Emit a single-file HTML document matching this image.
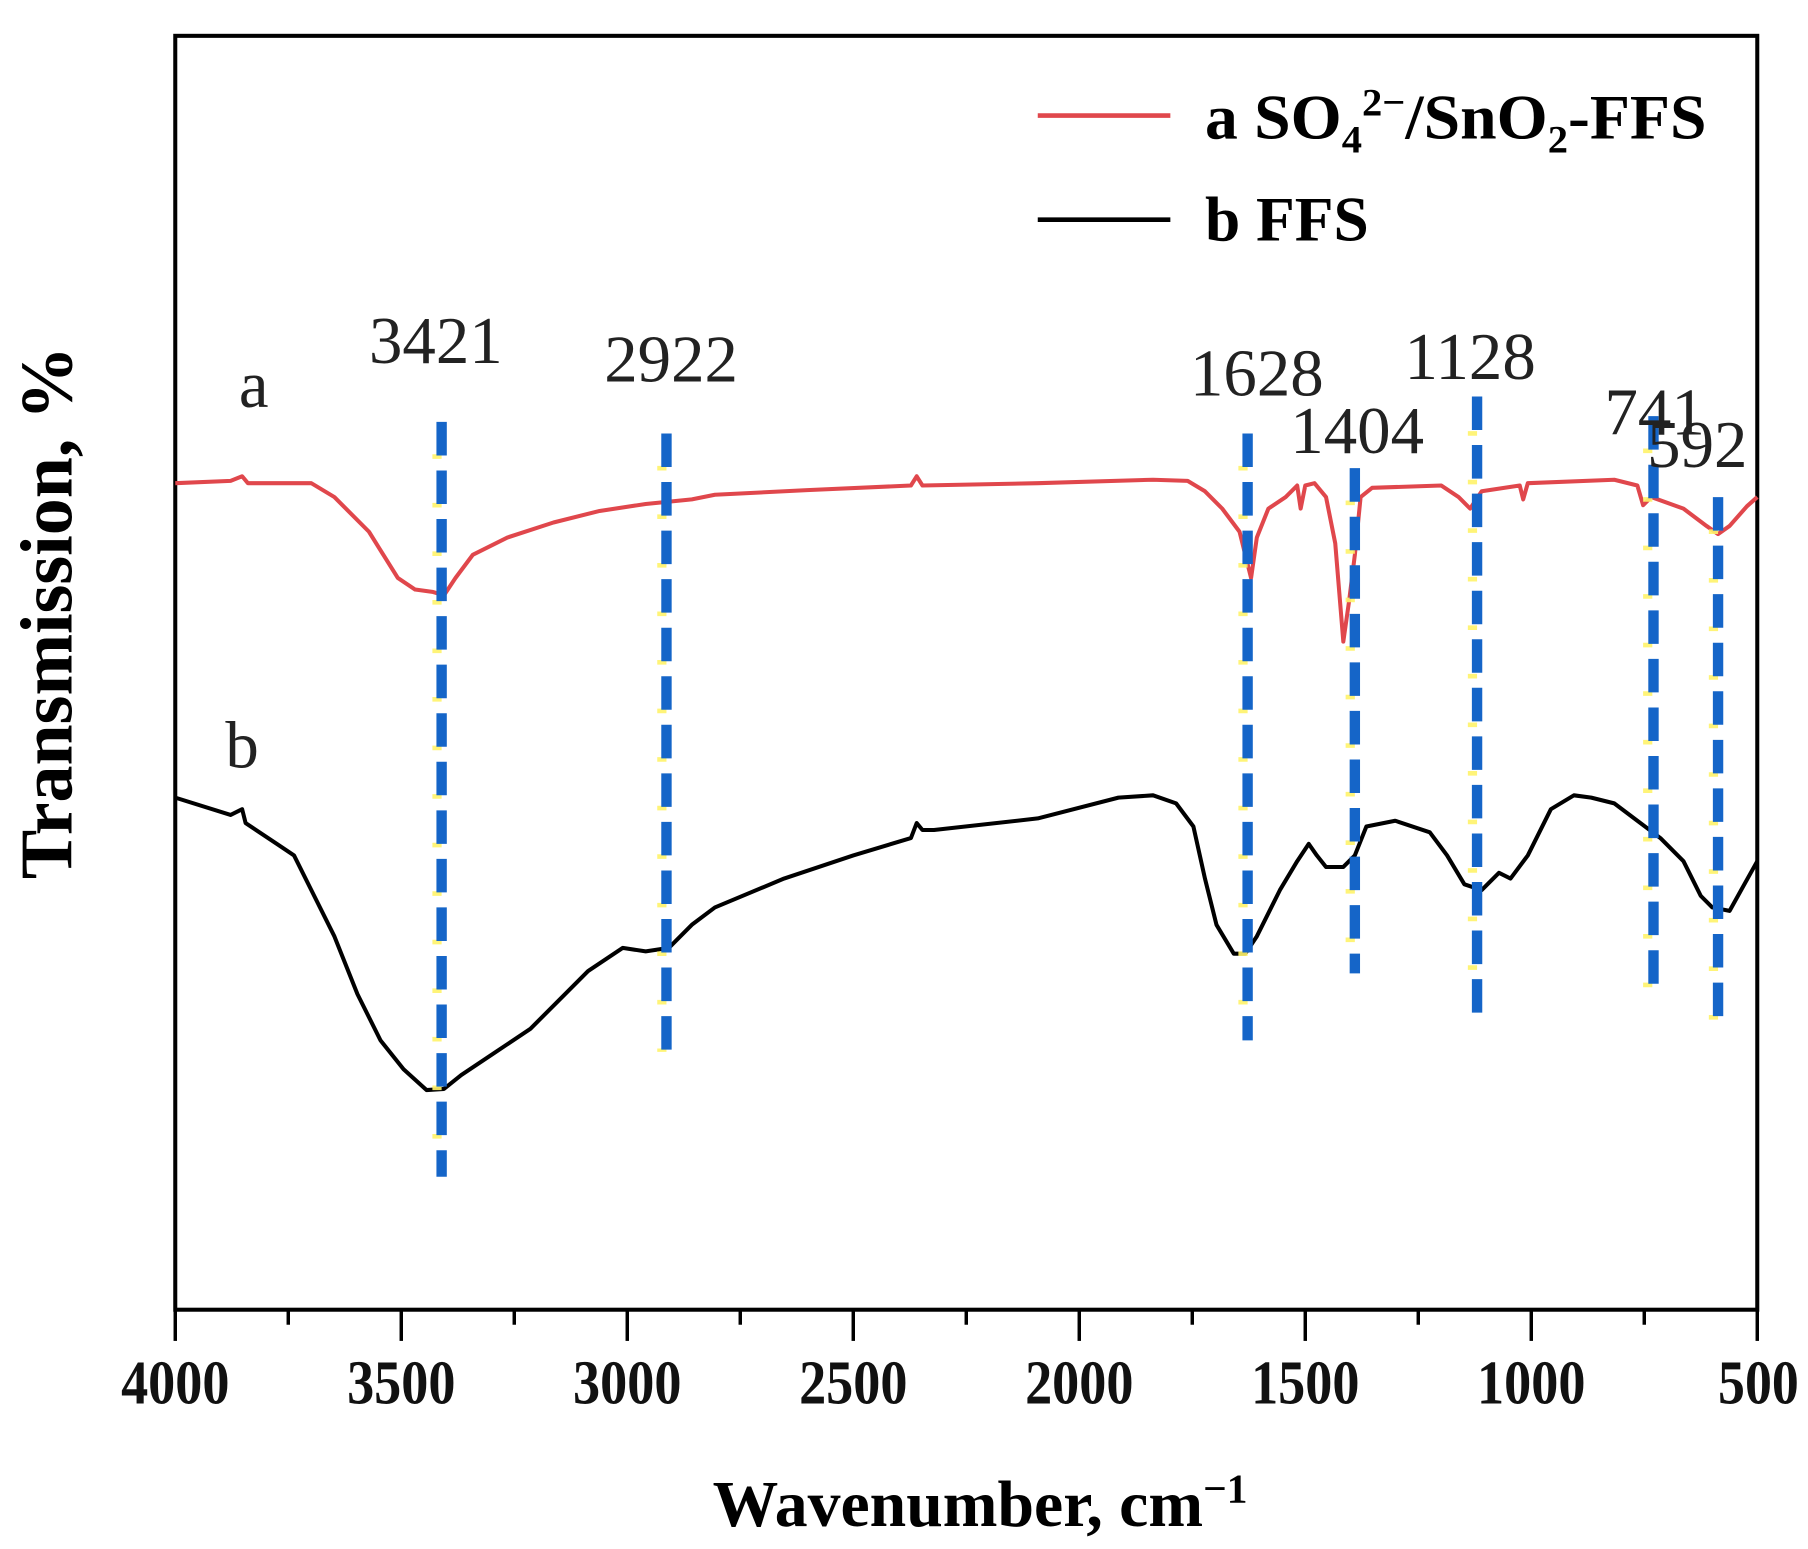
<!DOCTYPE html>
<html><head><meta charset="utf-8"><style>
html,body{margin:0;padding:0;background:#fff;}
svg{display:block;}
</style></head><body>
<svg width="1808" height="1549" viewBox="0 0 1568 1340" preserveAspectRatio="none" xmlns="http://www.w3.org/2000/svg">
<rect width="1568" height="1340" fill="#fff"/>
<rect x="152" y="31" width="1372" height="1102" fill="none" stroke="#000" stroke-width="3.5"/>
<g stroke="#000" stroke-width="3">
<line x1="152" y1="1133" x2="152" y2="1160"/>
<line x1="250" y1="1133" x2="250" y2="1146"/>
<line x1="348" y1="1133" x2="348" y2="1160"/>
<line x1="446" y1="1133" x2="446" y2="1146"/>
<line x1="544" y1="1133" x2="544" y2="1160"/>
<line x1="642" y1="1133" x2="642" y2="1146"/>
<line x1="740" y1="1133" x2="740" y2="1160"/>
<line x1="838" y1="1133" x2="838" y2="1146"/>
<line x1="936" y1="1133" x2="936" y2="1160"/>
<line x1="1034" y1="1133" x2="1034" y2="1146"/>
<line x1="1132" y1="1133" x2="1132" y2="1160"/>
<line x1="1230" y1="1133" x2="1230" y2="1146"/>
<line x1="1328" y1="1133" x2="1328" y2="1160"/>
<line x1="1426" y1="1133" x2="1426" y2="1146"/>
<line x1="1524" y1="1133" x2="1524" y2="1160"/>
</g>
<g font-family="Liberation Serif, serif" font-weight="bold" font-size="54" fill="#111">
<text x="105" y="1214" textLength="94" lengthAdjust="spacingAndGlyphs">4000</text>
<text x="301" y="1214" textLength="94" lengthAdjust="spacingAndGlyphs">3500</text>
<text x="497" y="1214" textLength="94" lengthAdjust="spacingAndGlyphs">3000</text>
<text x="693" y="1214" textLength="94" lengthAdjust="spacingAndGlyphs">2500</text>
<text x="889" y="1214" textLength="94" lengthAdjust="spacingAndGlyphs">2000</text>
<text x="1085" y="1214" textLength="94" lengthAdjust="spacingAndGlyphs">1500</text>
<text x="1281" y="1214" textLength="94" lengthAdjust="spacingAndGlyphs">1000</text>
<text x="1490" y="1214" textLength="70" lengthAdjust="spacingAndGlyphs">500</text>
</g>
<text x="850" y="1320" font-family="Liberation Serif, serif" font-weight="bold" font-size="57" text-anchor="middle">Wavenumber, cm<tspan dy="-20" font-size="36">−1</tspan></text>
<text transform="translate(62,530) rotate(-90)" font-family="Liberation Serif, serif" font-weight="bold" font-size="64" text-anchor="middle">Transmission, %</text>
<line x1="900" y1="100" x2="1015" y2="100" stroke="#e0474c" stroke-width="4"/>
<line x1="900" y1="190" x2="1015" y2="190" stroke="#000" stroke-width="4"/>
<text x="1045" y="120" font-family="Liberation Serif, serif" font-weight="bold" font-size="55" textLength="435" lengthAdjust="spacingAndGlyphs">a SO<tspan font-size="34" dy="12">4</tspan><tspan font-size="34" dy="-32">2−</tspan><tspan dy="20">/SnO</tspan><tspan font-size="34" dy="12">2</tspan><tspan dy="-12">-FFS</tspan></text>
<text x="1045" y="208" font-family="Liberation Serif, serif" font-weight="bold" font-size="55">b FFS</text>
<polyline fill="none" stroke="#e0474c" stroke-width="3.5" stroke-linejoin="round" points="152,418 200,416 210,412 215,418 270,418 290,430 320,460 345,500 360,510 375,512 385,515 395,500 410,480 440,465 480,452 520,442 560,436 600,432 620,428 700,424 790,420 795,412 800,420 900,418 1000,415 1030,416 1045,425 1060,440 1075,460 1085,500 1090,465 1100,440 1115,430 1125,420 1128,440 1132,420 1140,418 1150,430 1158,470 1165,555 1170,520 1175,480 1180,430 1190,422 1250,420 1265,430 1275,440 1285,425 1318,420 1321,432 1325,418 1400,415 1420,420 1425,437 1432,430 1460,440 1480,455 1490,462 1500,455 1515,438 1524,430"/>
<polyline fill="none" stroke="#000" stroke-width="3.5" stroke-linejoin="round" points="152,690 200,705 210,700 213,712 240,730 255,740 270,770 290,810 310,860 330,900 350,925 370,943 385,942 400,930 430,910 460,890 490,860 510,840 540,820 560,823 580,820 600,800 620,785 680,760 740,740 790,725 795,712 800,718 810,718 900,708 970,690 1000,688 1020,695 1035,715 1045,760 1055,800 1070,825 1080,825 1090,810 1110,770 1125,745 1135,730 1142,740 1150,750 1165,750 1175,740 1185,715 1210,710 1240,720 1255,740 1270,765 1285,770 1300,755 1310,760 1325,740 1345,700 1365,688 1380,690 1400,695 1420,710 1440,725 1460,745 1475,775 1485,785 1500,788 1510,770 1524,745"/>
<g stroke="#fff36a" stroke-width="8" stroke-dasharray="4 38" opacity="0.9">
<line x1="379" y1="393" x2="379" y2="1018"/><line x1="574" y1="403" x2="574" y2="910"/>
<line x1="1078" y1="403" x2="1078" y2="900"/><line x1="1171" y1="433" x2="1171" y2="850"/>
<line x1="1277" y1="373" x2="1277" y2="875"/><line x1="1429" y1="388" x2="1429" y2="858"/>
<line x1="1486" y1="458" x2="1486" y2="882"/>
</g>
<g stroke="#1565c8" stroke-width="9" stroke-dasharray="29 13">
<line x1="383" y1="365" x2="383" y2="1018"/><line x1="578" y1="375" x2="578" y2="910"/>
<line x1="1082" y1="375" x2="1082" y2="900"/><line x1="1175" y1="405" x2="1175" y2="842"/>
<line x1="1281" y1="343" x2="1281" y2="877"/><line x1="1434" y1="360" x2="1434" y2="858"/>
<line x1="1490" y1="430" x2="1490" y2="882"/>
</g>
<g font-family="Liberation Serif, serif" font-size="58" fill="#222" text-anchor="middle">
<text x="378" y="314">3421</text><text x="582" y="330">2922</text><text x="1090" y="342">1628</text>
<text x="1177" y="392">1404</text><text x="1275" y="328">1128</text><text x="1435" y="376">741</text>
<text x="1472" y="404">592</text>
<text x="220" y="352">a</text><text x="210" y="664">b</text>
</g>
</svg>
</body></html>
